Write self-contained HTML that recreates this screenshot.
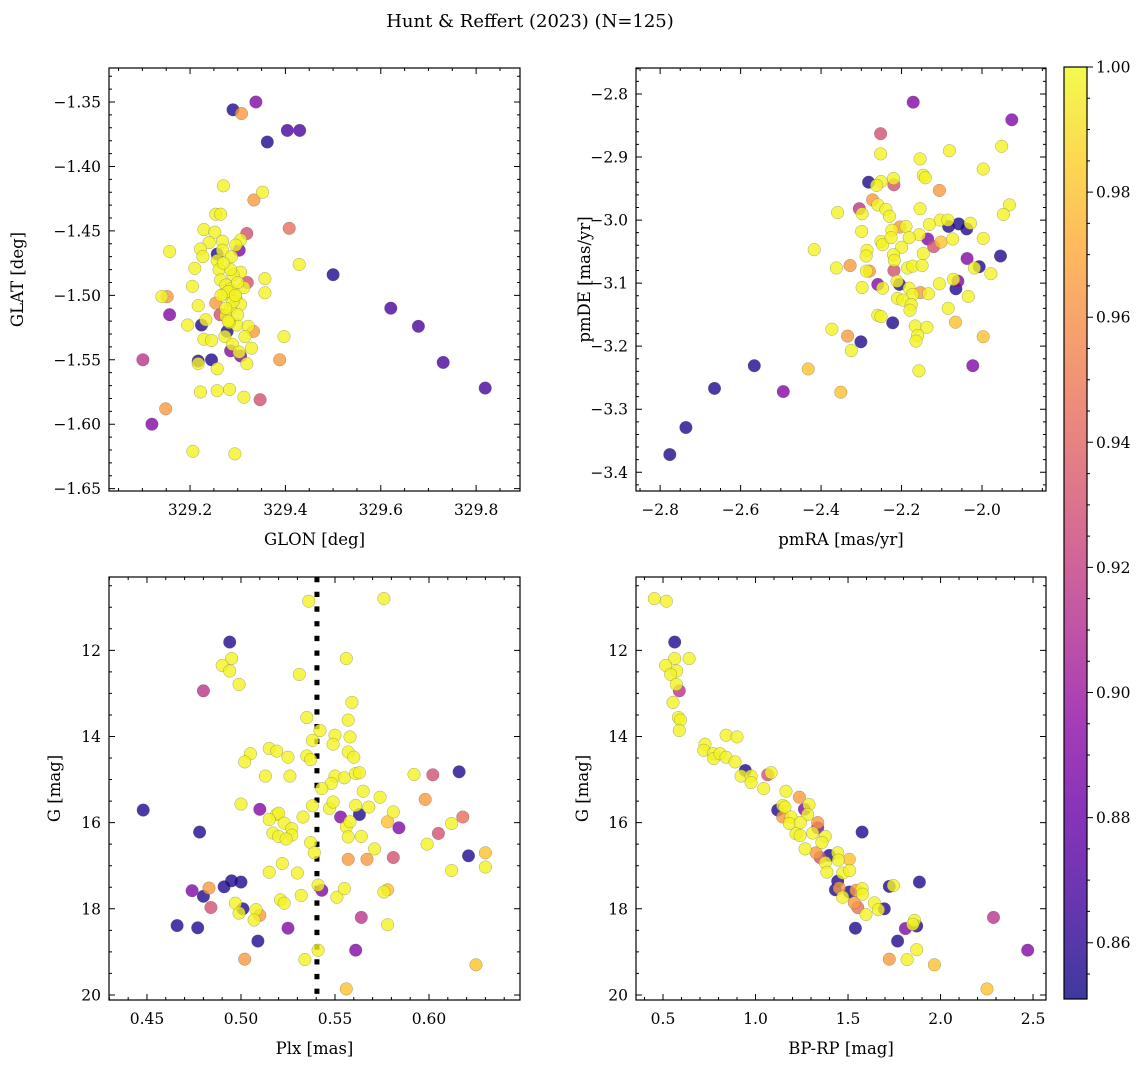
<!DOCTYPE html>
<html><head><meta charset="utf-8">
<style>
html,body{margin:0;padding:0;background:#fff;}
svg text{font-family:"DejaVu Serif","Liberation Serif",serif;fill:#000;}
</style></head>
<body>
<svg id="fig" xmlns="http://www.w3.org/2000/svg" width="1148" height="1067" viewBox="0 0 1148 1067">
<defs>
<linearGradient id="plasma" x1="0" y1="1" x2="0" y2="0">
<stop offset="0" stop-color="#0d0887"/><stop offset="0.1" stop-color="#41049d"/><stop offset="0.2" stop-color="#6a00a8"/><stop offset="0.3" stop-color="#8f0da4"/><stop offset="0.4" stop-color="#b12a90"/><stop offset="0.5" stop-color="#cc4778"/><stop offset="0.6" stop-color="#e16462"/><stop offset="0.7" stop-color="#f2844b"/><stop offset="0.8" stop-color="#fca636"/><stop offset="0.9" stop-color="#fcce25"/><stop offset="1" stop-color="#f0f921"/>
</linearGradient>
</defs>
<text x="530" y="27" font-size="18" text-anchor="middle">Hunt &amp; Reffert (2023) (N=125)</text>
</svg>
<script>
// probability levels
const D=0.856,B=0.868,P=0.89,M=0.915,K=0.93,S=0.945,O=0.965,A=0.98,Y=0.998;

const glon=[329.290,329.308,329.338,329.404,329.430,329.362,329.270,329.352,329.334,329.254,329.264,329.408,329.319,329.229,329.252,329.157,329.268,329.306,329.296,329.240,329.222,329.303,329.257,329.268,329.227,329.287,329.429,329.257,329.210,329.261,329.306,329.290,329.320,329.357,329.264,329.205,329.275,329.313,329.285,329.500,329.152,329.141,329.357,329.271,329.296,329.254,329.217,329.306,329.285,329.157,329.263,329.275,329.621,329.233,329.224,329.195,329.298,329.282,329.322,329.333,329.679,329.278,329.273,329.315,329.397,329.229,329.245,329.289,329.285,329.329,329.303,329.306,329.101,329.217,329.217,329.245,329.257,329.319,329.388,329.731,329.819,329.222,329.257,329.283,329.313,329.347,329.149,329.120,329.206,329.294,329.280,329.290,329.300,329.275,329.285,329.295,329.270,329.300,329.280,329.265];
const glat=[-1.356,-1.359,-1.350,-1.372,-1.372,-1.381,-1.415,-1.420,-1.426,-1.437,-1.437,-1.448,-1.452,-1.449,-1.451,-1.466,-1.458,-1.457,-1.461,-1.459,-1.464,-1.465,-1.468,-1.465,-1.470,-1.470,-1.476,-1.473,-1.479,-1.480,-1.482,-1.484,-1.490,-1.487,-1.488,-1.493,-1.492,-1.494,-1.495,-1.484,-1.501,-1.501,-1.498,-1.499,-1.502,-1.506,-1.508,-1.507,-1.510,-1.515,-1.515,-1.516,-1.510,-1.519,-1.523,-1.523,-1.523,-1.521,-1.524,-1.528,-1.524,-1.528,-1.532,-1.532,-1.532,-1.534,-1.535,-1.538,-1.543,-1.541,-1.544,-1.547,-1.550,-1.551,-1.553,-1.550,-1.557,-1.553,-1.550,-1.552,-1.572,-1.575,-1.574,-1.573,-1.579,-1.581,-1.588,-1.600,-1.621,-1.623,-1.497,-1.505,-1.490,-1.510,-1.480,-1.500,-1.475,-1.515,-1.520,-1.500];
const prob1=[D,O,P,B,B,D,Y,Y,O,Y,Y,S,K,Y,Y,Y,Y,Y,Y,Y,Y,P,D,Y,Y,Y,Y,Y,Y,Y,Y,Y,K,Y,Y,Y,Y,Y,Y,D,O,Y,Y,Y,Y,O,Y,Y,Y,P,K,Y,B,Y,D,Y,Y,Y,Y,O,B,D,Y,Y,Y,Y,Y,Y,P,Y,Y,P,M,D,Y,D,Y,Y,O,B,B,Y,Y,Y,Y,K,O,P,Y,Y,Y,Y,Y,Y,Y,Y,Y,Y,Y,Y];

const pmra=[-2.171,-1.926,-2.252,-2.252,-2.154,-2.081,-1.951,-1.997,-2.146,-2.141,-2.282,-2.251,-2.262,-2.219,-2.220,-2.106,-2.272,-2.259,-2.305,-2.298,-2.359,-2.239,-2.230,-2.154,-1.932,-1.947,-2.104,-2.085,-2.058,-2.083,-2.038,-2.029,-2.131,-2.189,-2.204,-2.224,-2.299,-2.156,-2.135,-2.120,-2.102,-2.073,-1.997,-2.251,-2.247,-2.226,-2.181,-2.200,-2.417,-2.286,-2.288,-2.146,-2.220,-1.954,-2.037,-2.218,-2.362,-2.328,-2.280,-2.287,-2.219,-2.185,-2.172,-2.149,-2.007,-2.019,-1.978,-2.211,-2.205,-2.259,-2.247,-2.298,-2.106,-2.060,-2.071,-2.065,-2.181,-2.153,-2.133,-2.172,-2.034,-2.210,-2.197,-2.176,-2.179,-2.084,-2.259,-2.251,-2.222,-2.066,-2.166,-2.137,-2.373,-2.160,-2.164,-2.334,-2.301,-1.997,-2.325,-2.566,-2.432,-2.157,-2.023,-2.665,-2.494,-2.351,-2.736,-2.776];
const pmde=[-2.813,-2.841,-2.863,-2.895,-2.903,-2.890,-2.883,-2.919,-2.929,-2.933,-2.940,-2.939,-2.945,-2.944,-2.934,-2.953,-2.968,-2.976,-2.982,-2.990,-2.988,-2.983,-2.994,-2.982,-2.976,-2.991,-3.000,-3.000,-3.006,-3.010,-3.014,-3.005,-3.007,-3.010,-3.011,-3.016,-3.018,-3.023,-3.030,-3.042,-3.035,-3.030,-3.029,-3.034,-3.039,-3.028,-3.028,-3.043,-3.047,-3.048,-3.057,-3.053,-3.055,-3.057,-3.061,-3.064,-3.076,-3.072,-3.081,-3.081,-3.080,-3.076,-3.073,-3.072,-3.074,-3.076,-3.085,-3.097,-3.102,-3.102,-3.108,-3.107,-3.101,-3.097,-3.094,-3.109,-3.108,-3.115,-3.117,-3.118,-3.121,-3.124,-3.127,-3.134,-3.143,-3.140,-3.151,-3.153,-3.163,-3.162,-3.168,-3.170,-3.173,-3.183,-3.192,-3.184,-3.193,-3.185,-3.207,-3.231,-3.236,-3.239,-3.231,-3.267,-3.272,-3.273,-3.329,-3.372];
const prob2=[P,P,K,Y,Y,Y,Y,Y,Y,Y,D,Y,Y,K,Y,O,O,Y,M,Y,Y,Y,Y,Y,Y,Y,Y,Y,D,D,D,Y,Y,Y,O,Y,Y,Y,P,K,A,Y,Y,Y,Y,Y,Y,Y,Y,Y,Y,Y,Y,D,P,Y,Y,O,O,Y,K,Y,Y,Y,D,Y,Y,Y,D,P,Y,Y,Y,P,Y,D,Y,O,Y,Y,Y,Y,Y,Y,Y,Y,Y,Y,D,A,Y,Y,Y,Y,Y,O,D,A,Y,D,A,Y,P,D,P,A,D,D];

const plx=[0.536,0.576,0.494,0.495,0.490,0.494,0.499,0.480,0.556,0.531,0.559,0.535,0.557,0.542,0.550,0.538,0.549,0.558,0.557,0.560,0.515,0.519,0.525,0.505,0.502,0.535,0.537,0.513,0.526,0.550,0.555,0.561,0.563,0.548,0.543,0.565,0.574,0.592,0.602,0.616,0.598,0.448,0.500,0.510,0.538,0.547,0.549,0.561,0.568,0.553,0.563,0.581,0.578,0.584,0.618,0.612,0.605,0.519,0.520,0.515,0.523,0.533,0.527,0.517,0.520,0.527,0.524,0.537,0.539,0.556,0.558,0.557,0.564,0.571,0.478,0.599,0.581,0.557,0.567,0.621,0.630,0.630,0.612,0.522,0.515,0.530,0.500,0.495,0.491,0.483,0.474,0.480,0.484,0.497,0.501,0.499,0.508,0.507,0.510,0.521,0.523,0.532,0.541,0.543,0.551,0.555,0.576,0.578,0.564,0.578,0.466,0.477,0.525,0.509,0.541,0.561,0.502,0.534,0.625,0.556];
const gmag3=[10.86,10.80,11.81,12.19,12.35,12.48,12.79,12.94,12.19,12.56,13.21,13.56,13.62,13.86,13.97,14.09,14.18,14.01,14.36,14.48,14.28,14.34,14.48,14.40,14.59,14.45,14.54,14.92,14.92,14.92,14.96,14.86,14.84,15.09,15.21,15.27,15.41,14.88,14.89,14.82,15.46,15.71,15.57,15.69,15.61,15.67,15.52,15.60,15.64,15.87,15.81,15.75,15.98,16.12,15.87,16.02,16.25,15.81,15.78,15.93,16.01,15.87,16.14,16.24,16.32,16.29,16.38,16.46,16.70,16.10,15.98,16.33,16.32,16.61,16.22,16.50,16.81,16.85,16.85,16.77,16.70,17.03,17.11,16.95,17.15,17.17,17.38,17.35,17.49,17.52,17.58,17.71,17.97,17.87,18.00,18.10,18.02,18.26,18.15,17.79,17.87,17.69,17.45,17.57,17.73,17.53,17.61,17.56,18.20,18.37,18.39,18.44,18.45,18.75,18.96,18.96,19.17,19.18,19.30,19.86];
const prob3=[Y,Y,D,Y,Y,Y,Y,M,Y,Y,Y,Y,Y,Y,Y,Y,Y,Y,Y,Y,Y,Y,Y,Y,Y,Y,Y,Y,Y,Y,Y,Y,Y,Y,Y,Y,Y,Y,K,D,O,D,Y,P,Y,Y,Y,Y,Y,P,D,Y,A,P,S,Y,K,Y,Y,Y,Y,Y,Y,Y,Y,Y,Y,Y,Y,Y,Y,Y,Y,Y,D,Y,K,O,O,D,A,Y,Y,Y,Y,Y,D,D,D,O,P,D,K,Y,D,Y,Y,Y,O,Y,Y,Y,Y,P,Y,Y,Y,A,M,Y,D,D,P,D,Y,P,O,Y,A,A];

const bprp=[0.453,0.518,0.563,0.563,0.641,0.514,0.574,0.541,0.572,0.588,0.554,0.583,0.594,0.588,0.841,0.900,0.727,0.720,0.772,0.774,0.808,0.841,0.889,0.945,0.922,0.976,0.976,1.044,1.066,1.084,1.165,1.120,1.237,1.147,1.159,1.289,1.264,1.147,1.192,1.282,1.183,1.242,1.336,1.336,1.219,1.241,1.309,1.377,1.359,1.268,1.327,1.399,1.349,1.444,1.507,1.448,1.377,1.386,1.471,1.509,1.576,1.444,1.432,1.453,1.471,1.507,1.543,1.576,1.579,1.534,1.552,1.642,1.597,1.664,1.696,1.723,1.745,1.886,1.540,1.810,1.871,1.859,1.850,1.768,2.286,1.871,1.819,1.723,1.967,2.471,2.251];
const gmag4=[10.80,10.86,11.81,12.19,12.19,12.35,12.48,12.56,12.79,12.94,13.21,13.56,13.62,13.86,13.97,14.01,14.18,14.32,14.40,14.51,14.40,14.48,14.59,14.79,14.92,14.92,15.07,15.21,14.89,14.84,15.27,15.71,15.41,15.60,15.64,15.58,15.69,15.87,15.87,15.81,16.02,16.00,16.00,16.12,16.26,16.30,16.24,16.32,16.46,16.61,16.70,16.76,16.81,16.70,16.85,16.87,16.93,17.15,17.17,17.11,16.22,17.36,17.56,17.52,17.73,17.61,17.57,17.53,17.66,17.86,17.97,17.86,18.13,18.02,18.00,17.48,17.46,17.38,18.45,18.46,18.40,18.27,18.36,18.75,18.20,18.95,19.18,19.17,19.30,18.96,19.86];
const prob4=[Y,Y,D,Y,Y,Y,Y,Y,Y,M,Y,Y,Y,Y,Y,Y,Y,Y,Y,Y,Y,Y,Y,D,Y,Y,Y,Y,K,Y,Y,D,O,Y,Y,Y,P,O,Y,Y,Y,Y,O,P,Y,Y,Y,Y,Y,Y,O,D,K,Y,A,Y,Y,Y,Y,Y,D,D,D,O,Y,D,O,Y,Y,O,S,Y,Y,Y,D,D,Y,D,D,P,D,Y,Y,D,M,Y,Y,O,A,P,A];

const cbTicks=[0.86,0.88,0.90,0.92,0.94,0.96,0.98,1.00];

const NS="http://www.w3.org/2000/svg";
const svg=document.getElementById('fig');
const stops=[[13,8,135],[65,4,157],[106,0,168],[143,13,164],[177,42,144],[204,71,120],[225,100,98],[242,132,75],[252,166,54],[252,206,37],[240,249,33]];
const VMIN=0.851,VMAX=1.0;
function cmap(v){let t=(v-VMIN)/(VMAX-VMIN);t=Math.max(0,Math.min(1,t));const f=t*10;const i=Math.min(9,Math.floor(f));const u=f-i;const a=stops[i],b=stops[i+1];return 'rgb('+[0,1,2].map(k=>Math.round(a[k]+(b[k]-a[k])*u)).join(',')+')';}
function mk(tag,attrs,parent){const e=document.createElementNS(NS,tag);for(const k in attrs)e.setAttribute(k,attrs[k]);(parent||svg).appendChild(e);return e;}
function fmt(v,d){const s=Math.abs(v).toFixed(d);return (v<-1e-9?'\u2212':'')+s;}
const TFS=15.5, AFS=16.5;

function panel(cfg){
  const g=mk('g',{});
  
  
  const {x0,x1,y0,y1}=cfg.box;
  const sx=v=>x0+(v-cfg.xd[0])/(cfg.xd[1]-cfg.xd[0])*(x1-x0);
  const sy=v=>y0+(v-cfg.yd[0])/(cfg.yd[1]-cfg.yd[0])*(y1-y0);
  if(cfg.vline!==undefined){
    const l=mk('line',{x1:sx(cfg.vline),x2:sx(cfg.vline),y1:y0,y2:y1,stroke:'#000','stroke-width':5,'stroke-dasharray':'5.3 9.4'},g);
    
    
  }
  const idx=cfg.xs.map((_,i)=>i).sort((a,b)=>cfg.ps[a]-cfg.ps[b]);
  const pg=mk('g',{},g);
  
  
  idx.forEach(i=>{
    const c=mk('circle',{cx:sx(cfg.xs[i]).toFixed(1),cy:sy(cfg.ys[i]).toFixed(1),r:6.3,fill:cmap(cfg.ps[i]),'fill-opacity':0.8,stroke:'#555','stroke-opacity':0.5,'stroke-width':0.5},pg);
    
    
  });
  const fr=mk('rect',{x:x0,y:y0,width:x1-x0,height:y1-y0,fill:'none',stroke:'#000','stroke-width':1.2},g);
  
  
  const lo=Math.min(...cfg.xd),hi=Math.max(...cfg.xd);
  const ylo=Math.min(...cfg.yd),yhi=Math.max(...cfg.yd);
  function ticks(a,b,step){const r=[];let s=Math.ceil(a/step-1e-6);for(let k=s;k*step<=b+1e-9;k++)r.push(+(k*step).toFixed(6));return r;}
  let path='';
  ticks(lo,hi,cfg.xminor).forEach(v=>{const X=sx(v);path+=`M${X},${y1}v-3M${X},${y0}v3`;});
  ticks(ylo,yhi,cfg.yminor).forEach(v=>{const Yp=sy(v);path+=`M${x0},${Yp}h3M${x1},${Yp}h-3`;});
  ticks(lo,hi,cfg.xmajor).forEach(v=>{const X=sx(v);path+=`M${X},${y1}v-6M${X},${y0}v6`;
    const t=mk('text',{x:X,y:y1+24,'font-size':TFS,'text-anchor':'middle'},g);t.textContent=fmt(v,cfg.xdec);
    });
  ticks(ylo,yhi,cfg.ymajor).forEach(v=>{const Yp=sy(v);path+=`M${x0},${Yp}h6M${x1},${Yp}h-6`;
    const t=mk('text',{x:x0-8,y:Yp+5.5,'font-size':TFS,'text-anchor':'end'},g);t.textContent=fmt(v,cfg.ydec);
    });
  const tp=mk('path',{d:path,stroke:'#000','stroke-width':1,fill:'none'},g);
  
  const xt=mk('text',{x:(x0+x1)/2,y:y1+54,'font-size':AFS,'text-anchor':'middle'},g);xt.textContent=cfg.xlabel;
  
  const yt=mk('text',{x:0,y:0,'font-size':AFS,'text-anchor':'middle',transform:`translate(${cfg.ylx},${(y0+y1)/2}) rotate(-90)`},g);yt.textContent=cfg.ylabel;
  
}

panel({name:'glon-glat-panel',box:{x0:109,x1:520,y0:68,y1:491},xd:[329.030,329.892],yd:[-1.3236,-1.6518],xs:glon,ys:glat,ps:prob1,
  xmajor:0.2,xminor:0.05,ymajor:0.05,yminor:0.01,xdec:1,ydec:2,xlabel:'GLON [deg]',ylabel:'GLAT [deg]',ylx:23});
panel({name:'proper-motion-panel',box:{x0:636,x1:1046,y0:68,y1:491},xd:[-2.860,-1.841],yd:[-2.7588,-3.4297],xs:pmra,ys:pmde,ps:prob2,
  xmajor:0.2,xminor:0.05,ymajor:0.1,yminor:0.02,xdec:1,ydec:1,xlabel:'pmRA [mas/yr]',ylabel:'pmDE [mas/yr]',ylx:590});
panel({name:'parallax-g-panel',box:{x0:109,x1:520,y0:577,y1:1000},xd:[0.4298,0.6484],yd:[10.298,20.117],xs:plx,ys:gmag3,ps:prob3,
  xmajor:0.05,xminor:0.01,ymajor:2,yminor:0.5,xdec:2,ydec:0,xlabel:'Plx [mas]',ylabel:'G [mag]',ylx:60,vline:0.5404});
panel({name:'cmd-panel',box:{x0:636,x1:1046,y0:577,y1:1000},xd:[0.354,2.570],yd:[10.298,20.117],xs:bprp,ys:gmag4,ps:prob4,
  xmajor:0.5,xminor:0.1,ymajor:2,yminor:0.5,xdec:1,ydec:0,xlabel:'BP-RP [mag]',ylabel:'G [mag]',ylx:588});

const cb=mk('g',{});


const CX0=1064,CX1=1087,CY0=67,CY1=999;
const cr=mk('rect',{x:CX0,y:CY0,width:CX1-CX0,height:CY1-CY0,fill:'url(#plasma)','fill-opacity':0.8},cb);

const cf=mk('rect',{x:CX0,y:CY0,width:CX1-CX0,height:CY1-CY0,fill:'none',stroke:'#000','stroke-width':1.2},cb);

const cy=v=>CY1-(v-VMIN)/(VMAX-VMIN)*(CY1-CY0);
let cp='';
for(let k=171;k<=200;k++){const v=k*0.005;if(v<VMIN-1e-9)continue;cp+=`M${CX1},${cy(v)}h3`;}
cbTicks.forEach(v=>{cp+=`M${CX1},${cy(v)}h6`;
  const t=mk('text',{x:CX1+9,y:cy(v)+5.5,'font-size':TFS},cb);t.textContent=v.toFixed(2);
  });
const ctp=mk('path',{d:cp,stroke:'#000','stroke-width':1},cb);

</script>
</body></html>
